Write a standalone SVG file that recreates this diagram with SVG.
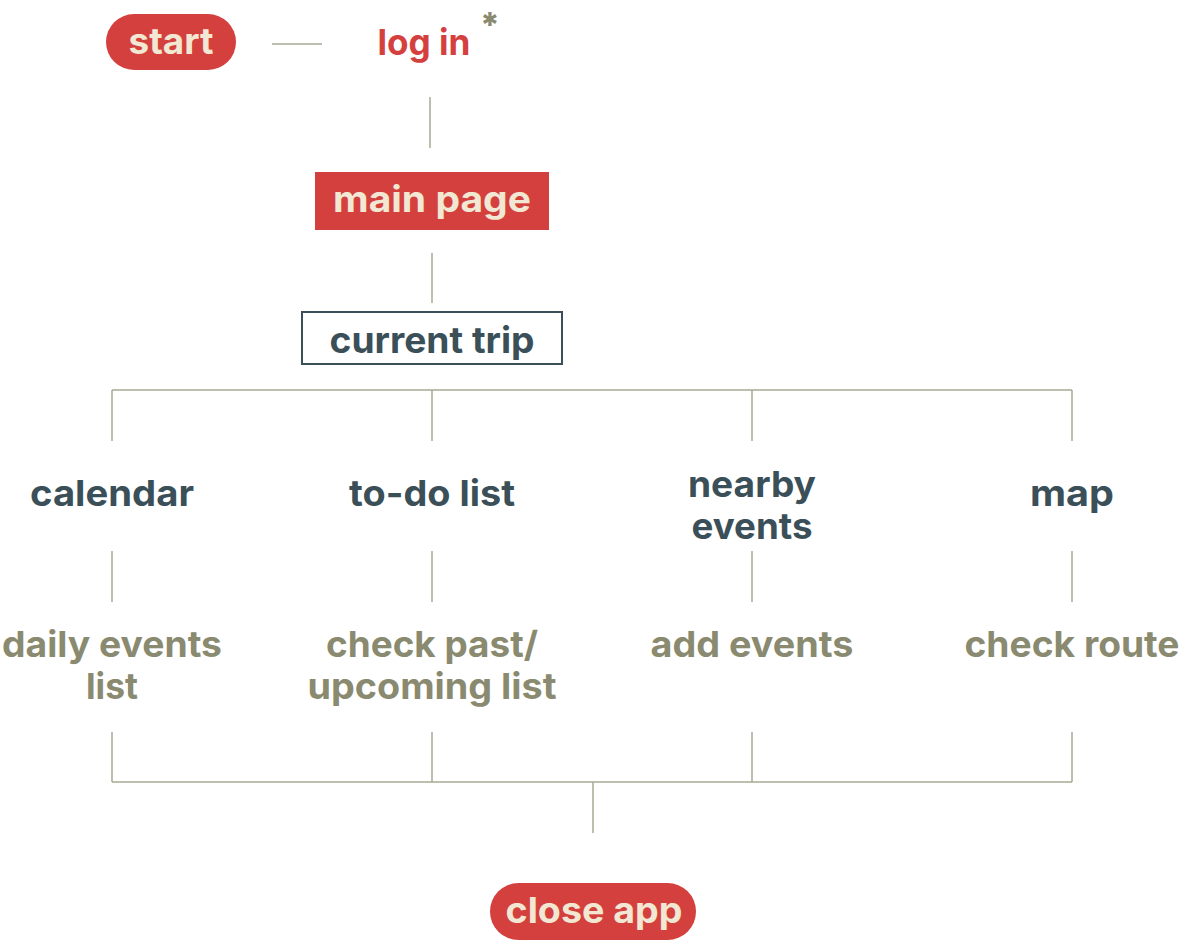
<svg xmlns="http://www.w3.org/2000/svg" width="1183" height="941" viewBox="0 0 1183 941">
<style>
text{font-family:Inter,"Open Sans","Liberation Sans",sans-serif;font-weight:650;font-size:36px;text-anchor:middle}
.cream{fill:#F2E7D3}
.red{fill:#D4403D}
.slate{fill:#3B4F58}
.olive{fill:#8A8A70}
.conn line{stroke:#A9A993;stroke-width:1.5;fill:none}
</style>
<rect width="1183" height="941" fill="#FFFFFF"/>
<g id="connectors" class="conn">
<line x1="272" y1="44" x2="322" y2="44"/>
<line x1="430" y1="97" x2="430" y2="148"/>
<line x1="432" y1="253" x2="432" y2="303"/>
<line x1="112" y1="390" x2="1072" y2="390"/>
<line x1="112" y1="390" x2="112" y2="441"/>
<line x1="432" y1="390" x2="432" y2="441"/>
<line x1="752" y1="390" x2="752" y2="441"/>
<line x1="1072" y1="390" x2="1072" y2="441"/>
<line x1="112" y1="551" x2="112" y2="602"/>
<line x1="432" y1="551" x2="432" y2="602"/>
<line x1="752" y1="551" x2="752" y2="602"/>
<line x1="1072" y1="551" x2="1072" y2="602"/>
<line x1="112" y1="732" x2="112" y2="782"/>
<line x1="432" y1="732" x2="432" y2="782"/>
<line x1="752" y1="732" x2="752" y2="782"/>
<line x1="1072" y1="732" x2="1072" y2="782"/>
<line x1="112" y1="782" x2="1072" y2="782"/>
<line x1="593" y1="782" x2="593" y2="833"/>
</g>
<g id="start">
<rect x="106" y="14" width="130" height="56" rx="28" fill="#D4403D"/>
<text class="cream" x="171" y="54" textLength="85" lengthAdjust="spacingAndGlyphs">start</text>
</g>
<g id="login">
<text class="red" x="424" y="55" textLength="93" lengthAdjust="spacingAndGlyphs">log in</text>
<text class="olive" x="490" y="37" style="font-size:34px;font-weight:800">*</text>
</g>
<g id="main-page">
<rect x="315" y="172" width="234" height="58" fill="#D4403D"/>
<text class="cream" x="432" y="212" textLength="198" lengthAdjust="spacingAndGlyphs">main page</text>
</g>
<g id="current-trip">
<rect x="302" y="312" width="260" height="52" fill="#FFFFFF" stroke="#3B4F58" stroke-width="2"/>
<text class="slate" x="432" y="353" textLength="205" lengthAdjust="spacingAndGlyphs">current trip</text>
</g>
<g id="calendar">
<text class="slate" x="112" y="506" textLength="164" lengthAdjust="spacingAndGlyphs">calendar</text>
</g>
<g id="todo">
<text class="slate" x="432" y="506" textLength="166" lengthAdjust="spacingAndGlyphs">to-do list</text>
</g>
<g id="nearby">
<text class="slate" x="752" y="497" textLength="128" lengthAdjust="spacingAndGlyphs">nearby</text>
<text class="slate" x="752" y="539" textLength="121" lengthAdjust="spacingAndGlyphs">events</text>
</g>
<g id="map">
<text class="slate" x="1072" y="506" textLength="84" lengthAdjust="spacingAndGlyphs">map</text>
</g>
<g id="daily">
<text class="olive" x="112" y="657" textLength="220" lengthAdjust="spacingAndGlyphs">daily events</text>
<text class="olive" x="112" y="699" textLength="52" lengthAdjust="spacingAndGlyphs">list</text>
</g>
<g id="check-past">
<text class="olive" x="432" y="657" textLength="212" lengthAdjust="spacingAndGlyphs">check past/</text>
<text class="olive" x="432" y="699" textLength="249" lengthAdjust="spacingAndGlyphs">upcoming list</text>
</g>
<g id="add-events">
<text class="olive" x="752" y="657" textLength="203" lengthAdjust="spacingAndGlyphs">add events</text>
</g>
<g id="check-route">
<text class="olive" x="1072" y="657" textLength="215" lengthAdjust="spacingAndGlyphs">check route</text>
</g>
<g id="close-app">
<rect x="490" y="883" width="206" height="57" rx="28.5" fill="#D4403D"/>
<text class="cream" x="594" y="923" textLength="177" lengthAdjust="spacingAndGlyphs">close app</text>
</g>
</svg>
